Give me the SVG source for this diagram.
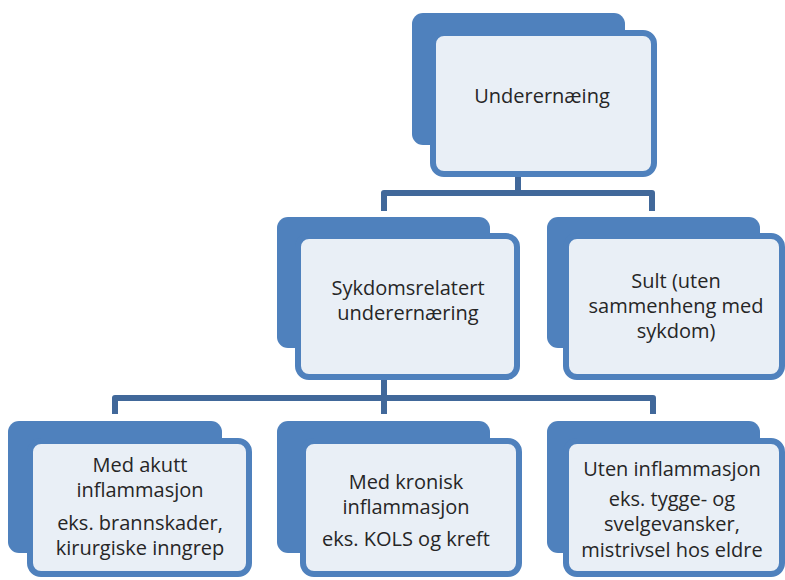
<svg xmlns="http://www.w3.org/2000/svg" width="785" height="580" viewBox="0 0 785 580">
<style>
.back{fill:#4f81bd;}
.front{fill:#e9eff6;stroke:#4f81bd;stroke-width:6;}
.conn{fill:none;stroke:#41689a;stroke-width:6;stroke-linejoin:round;stroke-linecap:butt;}
text{font-family:"Open Sans","Noto Sans","Liberation Sans",sans-serif;font-size:20px;fill:#262626;text-anchor:middle;}
</style>
<rect width="785" height="580" fill="#ffffff"/>
<g id="connectors">
<path class="conn" d="M518 177 V193 M384 211 V193 H652 V211"/>
<path class="conn" d="M384 380 V398 M115 414 V398 H653 V414 M384 398 V414"/>
</g>
<g id="node-underernaering">
<rect class="back" x="412" y="13" width="213" height="132" rx="11"/>
<rect class="front" x="433" y="33" width="221" height="141" rx="11"/>
<text x="542" y="103">Underernæing</text>
</g>
<g id="node-sykdomsrelatert">
<rect class="back" x="277" y="217" width="213" height="131" rx="11"/>
<rect class="front" x="298" y="236" width="219" height="141" rx="11"/>
<text x="408" y="295">Sykdomsrelatert</text>
<text x="408" y="320">underernæring</text>
</g>
<g id="node-sult">
<rect class="back" x="547" y="217" width="213" height="131" rx="11"/>
<rect class="front" x="566" y="236" width="216" height="141" rx="11"/>
<text x="676" y="288">Sult (uten</text>
<text x="676" y="313">sammenheng med</text>
<text x="676" y="338">sykdom)</text>
</g>
<g id="node-akutt">
<rect class="back" x="8" y="421" width="214" height="132" rx="11"/>
<rect class="front" x="30" y="441" width="219" height="133" rx="11"/>
<text x="140" y="472">Med akutt</text>
<text x="140" y="497">inflammasjon</text>
<text x="140" y="530">eks. brannskader,</text>
<text x="140" y="555">kirurgiske inngrep</text>
</g>
<g id="node-kronisk">
<rect class="back" x="277" y="421" width="213" height="132" rx="11"/>
<rect class="front" x="303" y="441" width="216" height="133" rx="11"/>
<text x="406" y="489">Med kronisk</text>
<text x="406" y="514">inflammasjon</text>
<text x="406" y="546">eks. KOLS og kreft</text>
</g>
<g id="node-uten">
<rect class="back" x="547" y="421" width="213" height="132" rx="11"/>
<rect class="front" x="566" y="441" width="216" height="133" rx="11"/>
<text x="672" y="476">Uten inflammasjon</text>
<text x="672" y="506">eks. tygge- og</text>
<text x="672" y="531">svelgevansker,</text>
<text x="672" y="557">mistrivsel hos eldre</text>
</g>
</svg>
